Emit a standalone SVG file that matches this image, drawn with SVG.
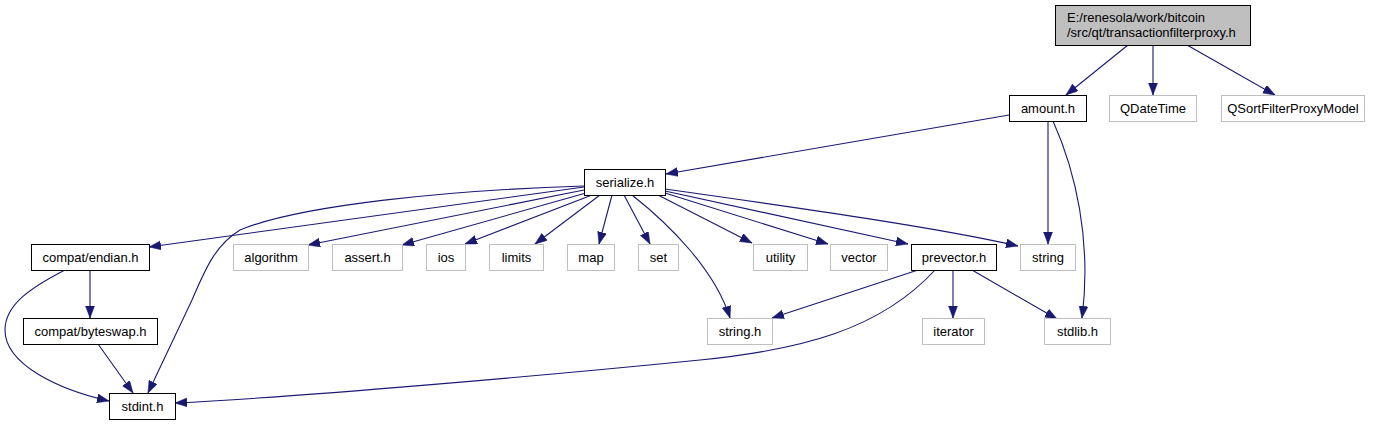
<svg xmlns="http://www.w3.org/2000/svg" width="1381" height="425" viewBox="0 0 1381 425">
<style>
.n rect{fill:#ffffff;stroke:#000000;stroke-width:1}
.x rect{fill:#ffffff;stroke:#bfbfbf;stroke-width:1}
.r rect{fill:#bfbfbf;stroke:#000000;stroke-width:1}
text{font-family:"Liberation Sans",Arial,sans-serif;font-size:13px;fill:#000000}
.c{text-anchor:middle}
#edges path{fill:none;stroke:#191970;stroke-width:1.1;marker-end:url(#ah)}
</style>
<defs>
<marker id="ah" markerUnits="userSpaceOnUse" markerWidth="13" markerHeight="10" refX="12" refY="4.5" orient="auto">
<path d="M0,0 L12,4.5 L0,9 z" fill="#191970" stroke="#191970" stroke-width="0.5"/>
</marker>
</defs>
<rect width="1381" height="425" fill="#ffffff"/>
<g id="edges">
<path d="M1128,45 L1066,95"/>
<path d="M1153,45 L1153,95"/>
<path d="M1187,45 L1275,95"/>
<path d="M1009,115 L666,174"/>
<path d="M1048,121 L1048,244"/>
<path d="M1053,121 C1075,170 1092,240 1082,318"/>
<path d="M584,187 L149,247"/>
<path d="M584,186 C450,190 300,205 240,230 C215,245 205,270 192,300 L148,393"/>
<path d="M584,190 L308,245"/>
<path d="M586,193 L402,245"/>
<path d="M592,195 L465,244"/>
<path d="M600,195 L535,244"/>
<path d="M612,195 L599,244"/>
<path d="M624,195 L650,244"/>
<path d="M632,195 C670,225 715,270 730,318"/>
<path d="M658,195 L752,243"/>
<path d="M665,193 L828,244"/>
<path d="M665,191 L908,244"/>
<path d="M665,189 C800,208 940,228 1018,246"/>
<path d="M918,270 L772,318"/>
<path d="M935,270 C880,330 800,350 700,360 C550,375 300,397 175,403"/>
<path d="M953,270 L953,318"/>
<path d="M972,270 L1057,319"/>
<path d="M90,270 L90,318"/>
<path d="M65,270 C30,288 5,305 5,330 C5,365 60,390 109,401"/>
<path d="M98,344 L133,393"/>
</g>
<g id="node-top" class="r"><rect x="1055.5" y="5.5" width="195" height="40"/><text x="1067" y="22">E:/renesola/work/bitcoin</text><text x="1067" y="36.5">/src/qt/transactionfilterproxy.h</text></g>
<g id="node-amount" class="n"><rect x="1009.5" y="95.5" width="77" height="26"/><text class="c" x="1048" y="113">amount.h</text></g>
<g id="node-qdatetime" class="x"><rect x="1109.5" y="95.5" width="87" height="26"/><text class="c" x="1153" y="113">QDateTime</text></g>
<g id="node-qsort" class="x"><rect x="1221.5" y="95.5" width="143" height="26"/><text class="c" x="1293" y="113">QSortFilterProxyModel</text></g>
<g id="node-serialize" class="n"><rect x="584.5" y="169.5" width="81" height="26"/><text class="c" x="625" y="187">serialize.h</text></g>
<g id="node-endian" class="n"><rect x="31.5" y="244.5" width="118" height="26"/><text class="c" x="90.5" y="262">compat/endian.h</text></g>
<g id="node-algorithm" class="x"><rect x="233.5" y="244.5" width="75" height="26"/><text class="c" x="271" y="262">algorithm</text></g>
<g id="node-assert" class="x"><rect x="332.5" y="244.5" width="70" height="26"/><text class="c" x="367.5" y="262">assert.h</text></g>
<g id="node-ios" class="x"><rect x="426.5" y="244.5" width="39" height="26"/><text class="c" x="446" y="262">ios</text></g>
<g id="node-limits" class="x"><rect x="489.5" y="244.5" width="54" height="26"/><text class="c" x="516.5" y="262">limits</text></g>
<g id="node-map" class="x"><rect x="567.5" y="244.5" width="47" height="26"/><text class="c" x="591" y="262">map</text></g>
<g id="node-set" class="x"><rect x="638.5" y="244.5" width="40" height="26"/><text class="c" x="658.5" y="262">set</text></g>
<g id="node-utility" class="x"><rect x="753.5" y="244.5" width="54" height="26"/><text class="c" x="780.5" y="262">utility</text></g>
<g id="node-vector" class="x"><rect x="830.5" y="244.5" width="57" height="26"/><text class="c" x="859" y="262">vector</text></g>
<g id="node-prevector" class="n"><rect x="911.5" y="244.5" width="85" height="26"/><text class="c" x="954" y="262">prevector.h</text></g>
<g id="node-string" class="x"><rect x="1020.5" y="244.5" width="55" height="26"/><text class="c" x="1048" y="262">string</text></g>
<g id="node-byteswap" class="n"><rect x="23.5" y="318.5" width="134" height="26"/><text class="c" x="90.5" y="336">compat/byteswap.h</text></g>
<g id="node-stringh" class="x"><rect x="707.5" y="318.5" width="65" height="26"/><text class="c" x="740" y="336">string.h</text></g>
<g id="node-iterator" class="x"><rect x="922.5" y="318.5" width="62" height="26"/><text class="c" x="953.5" y="336">iterator</text></g>
<g id="node-stdlib" class="x"><rect x="1044.5" y="318.5" width="66" height="26"/><text class="c" x="1077.5" y="336">stdlib.h</text></g>
<g id="node-stdint" class="n"><rect x="109.5" y="393.5" width="66" height="26"/><text class="c" x="142.5" y="411">stdint.h</text></g>
</svg>
